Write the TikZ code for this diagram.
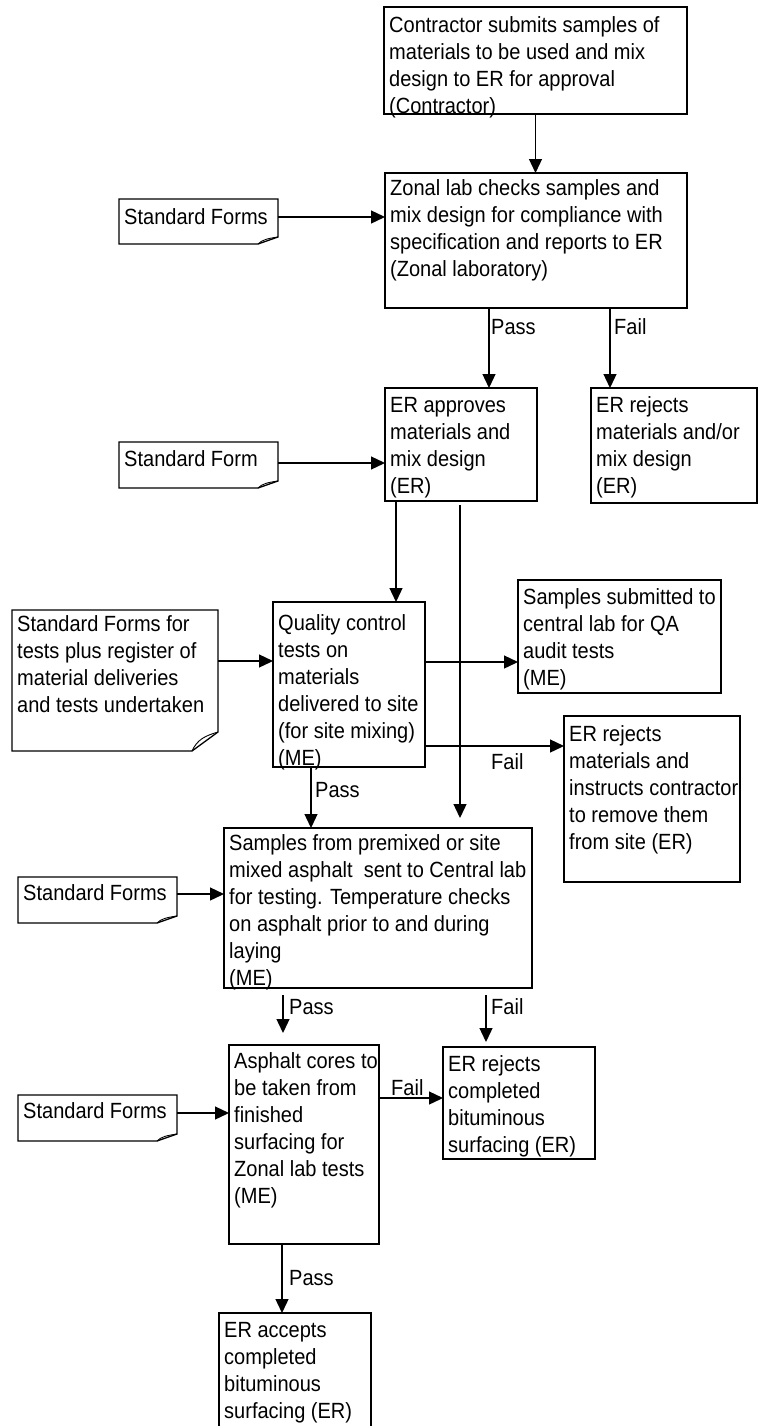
\documentclass[tikz,border=0pt]{standalone}
\usepackage{fontspec}
\setmainfont{Liberation Sans}[FakeStretch=0.91]
\usetikzlibrary{arrows.meta,calc}

\tikzset{
  boxline/.style={draw=black, line width=1.3pt},
  frame/.style={boxline, rectangle, inner sep=0pt, outer sep=0pt},
  txt/.style={inner sep=0pt, align=left, font=\fontsize{22}{27}\selectfont},
  lbl/.style={inner sep=0pt, font=\fontsize{22}{27}\selectfont},
  flow/.style={line width=1.3pt, -{Triangle[length=14pt,width=13pt]}},
}

% process box: name, x1, y1, x2, y2, first baseline offset, text
\newcommand\procbox[7]{%
  \node[frame, minimum width={(#4-#2)*1pt}, minimum height={(#5-#3)*1pt}, anchor=north west] (#1) at (#2,#3) {};
  \node[txt, anchor=north west] (#1t) at (#2+5,#3+#6-17) {\rule{0pt}{17pt}#7};
}

% document shape with a curled lower right corner:
% name, x1, y1, x2, y2, curl width, curl height, first baseline offset, text
\newcommand\formdoc[9]{%
  \node[inner sep=0pt, outer sep=0pt, minimum width={(#4-#2)*1pt}, minimum height={(#5-#3)*1pt}, anchor=north west] (#1) at (#2,#3) {};
  \draw[boxline, line join=miter] (#1.north west) -- (#1.north east)
     -- ($(#1.south east)+(0,-#7)$) -- ($(#1.south east)+(-#6,0)$)
     -- (#1.south west) -- cycle;
  \draw[line width=0.9pt] ($(#1.south east)+(0,-#7)$)
     .. controls ($(#1.south east)+(-0.5*#6,-0.8*#7)$) and ($(#1.south east)+(-0.8*#6,-0.6*#7)$)
     .. ($(#1.south east)+(-#6,0)$);
  \node[txt, anchor=north west] (#1t) at (#2+5,#3+#8-17) {\rule{0pt}{17pt}#9};
}

\begin{document}
\begin{tikzpicture}[x=1pt,y=-1pt]
  \fill[white] (0,0) rectangle (758,1426);
  \useasboundingbox (0,0) rectangle (758,1426);

  % process boxes
  \procbox{b1}{384}{7}{687}{114}{25}{Contractor submits samples of\\materials to be used and mix\\design to ER for approval\\(Contractor)}
  \procbox{b2}{385}{173}{687}{308}{22}{Zonal lab checks samples and\\mix design for compliance with\\specification and reports to ER\\(Zonal laboratory)}
  \procbox{b3}{385}{388}{537}{501}{24}{ER approves\\materials and\\mix design\\(ER)}
  \procbox{b4}{591}{388}{757}{503}{24}{ER rejects\\materials and/or\\mix design\\(ER)}
  \procbox{qc}{273}{602}{425}{767}{28}{Quality control\\tests on\\materials\\delivered to site\\(for site mixing)\\(ME)}
  \procbox{ss}{518}{580}{721}{693}{24}{Samples submitted to\\central lab for QA\\audit tests\\(ME)}
  \procbox{r2}{564}{716}{740}{882}{25}{ER rejects\\materials and\\instructs contractor\\to remove them\\from site (ER)}
  \procbox{sp}{224}{828}{532}{988}{22}{Samples from premixed or site\\mixed asphalt\ \ sent to Central lab\\for testing. Temperature checks\\on asphalt prior to and during\\laying\\(ME)}
  \procbox{as}{229}{1045}{379}{1244}{23}{Asphalt cores to\\be taken from\\finished\\surfacing for\\Zonal lab tests\\(ME)}
  \procbox{r3}{443}{1047}{595}{1159}{24}{ER rejects\\completed\\bituminous\\surfacing (ER)}
  \procbox{ea}{219}{1313}{371}{1432}{24}{ER accepts\\completed\\bituminous\\surfacing (ER)}

  % standard forms
  \formdoc{sf1}{119}{199}{278}{244}{20}{7}{25}{Standard Forms}
  \formdoc{sf2}{119}{442}{278}{488}{20}{7}{24}{Standard Form}
  \formdoc{sf3}{12}{610}{218}{751}{26}{19}{21}{Standard Forms for\\tests plus register of\\material deliveries\\and tests undertaken}
  \formdoc{sf4}{18}{877}{177}{923}{20}{7}{23}{Standard Forms}
  \formdoc{sf5}{18}{1095}{177}{1141}{20}{7}{23}{Standard Forms}

  % flow
  \draw[flow] (b1.south) -- (b1.south |- b2.north);
  \draw[flow] (sf1.east |- 0,217) -- (b2.west |- 0,217);
  \draw[flow] (b2.south -| 489,0) -- (b3.north -| 489,0);
  \node[lbl, anchor=west] (pass1) at (491,327) {Pass};
  \draw[flow] (b2.south -| 610,0) -- (b4.north -| 610,0);
  \node[lbl, anchor=west] (fail1) at (614,327) {Fail};
  \draw[flow] (sf2.east |- 0,463) -- (b3.west |- 0,463);
  \draw[flow] (b3.south -| 396,0) -- (qc.north -| 396,0);
  \draw[flow, shorten <=4pt, shorten >=10pt] (b3.south -| 460,0) -- (sp.north -| 460,0);
  \draw[flow] (sf3.east |- 0,661) -- (qc.west |- 0,661);
  \draw[flow] (qc.east |- 0,662) -- (ss.west |- 0,662);
  \draw[flow] (qc.east |- 0,746) -- (r2.west |- 0,746);
  \node[lbl, anchor=west] (fail2) at (491,762) {Fail};
  \draw[flow] (qc.south -| 311,0) -- (sp.north -| 311,0);
  \node[lbl, anchor=west] (pass2) at (315,790) {Pass};
  \draw[flow] (sf4.east |- 0,894) -- (sp.west |- 0,894);
  \draw[flow, shorten <=7pt, shorten >=12pt] (sp.south -| 283,0) -- (as.north -| 283,0);
  \node[lbl, anchor=west] (pass3) at (289,1007) {Pass};
  \draw[flow, shorten <=7pt, shorten >=5pt] (sp.south -| 486,0) -- (r3.north -| 486,0);
  \node[lbl, anchor=west] (fail3) at (491,1007) {Fail};
  \draw[flow] (sf5.east |- 0,1113) -- (as.west |- 0,1113);
  \draw[flow] (as.east |- 0,1098) -- (r3.west |- 0,1098);
  \node[lbl, anchor=west] (fail4) at (391,1088) {Fail};
  \draw[flow] (as.south -| 282,0) -- (ea.north -| 282,0);
  \node[lbl, anchor=west] (pass4) at (289,1278) {Pass};
\end{tikzpicture}
\end{document}
